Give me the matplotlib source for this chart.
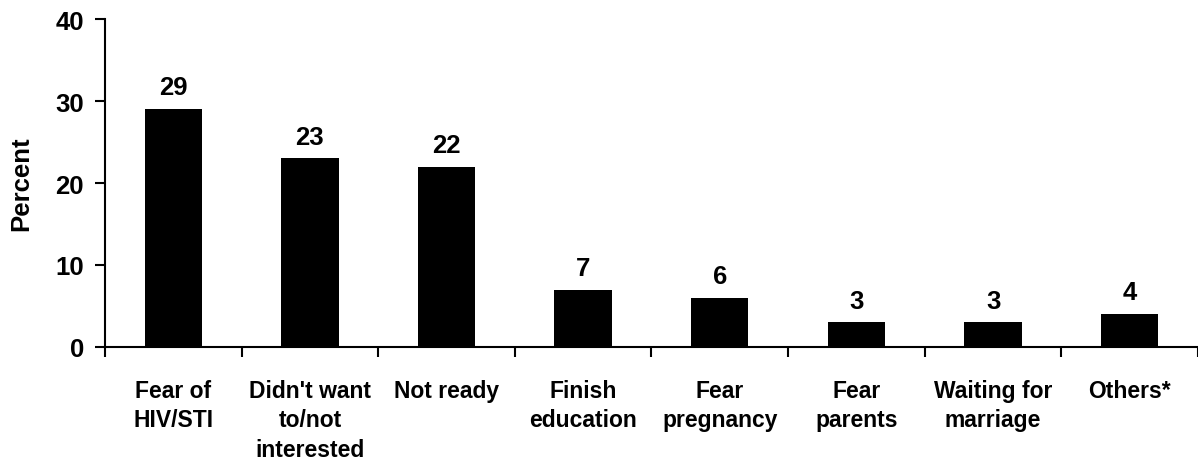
import numpy as np
import matplotlib.pyplot as plt

plt.rcParams['font.family'] = ['Liberation Sans', 'DejaVu Sans']
plt.rcParams['font.weight'] = 'bold'

categories = ["Fear of\nHIV/STI", "Didn't want\nto/not\ninterested", "Not ready",
              "Finish\neducation", "Fear\npregnancy", "Fear\nparents",
              "Waiting for\nmarriage", "Others*"]
percent = [29, 23, 22, 7, 6, 3, 3, 4]

fig = plt.figure(figsize=(11.98, 4.6), dpi=100)
ax = fig.add_axes([0.0876, 0.2435, 0.9124, 0.713])

x = np.arange(len(categories))
bars = ax.bar(x, percent, width=0.42, color="black")

for xi, v in zip(x, percent):
    ax.annotate(str(v), (xi, v), xytext=(0, 7), textcoords="offset points",
                ha="center", va="bottom", fontsize=18.5, fontweight="bold")

ax.set_xlim(-0.5, 7.47)
ax.set_ylim(0, 40)
ax.set_yticks([0, 10, 20, 30, 40])
ax.set_xticks(x)
ax.set_xticklabels(categories, fontsize=16.5, fontweight="bold", linespacing=1.36)
ax.set_xticks(np.arange(-0.5, 8, 1), minor=True)
ax.tick_params(axis="x", which="major", length=0, pad=23)
ax.tick_params(axis="x", which="minor", length=7, width=1.5, direction="out")
ax.tick_params(axis="y", length=7, width=1.5, pad=8, labelsize=18.5)
for lab in ax.get_yticklabels():
    lab.set_fontweight("bold")

ax.set_ylabel("Percent", fontsize=18.5, fontweight="bold", labelpad=16)

ax.spines["top"].set_visible(False)
ax.spines["right"].set_visible(False)
ax.spines["left"].set_linewidth(1.5)
ax.spines["bottom"].set_linewidth(1.5)

plt.savefig("out.png", dpi=100)
plt.close()
